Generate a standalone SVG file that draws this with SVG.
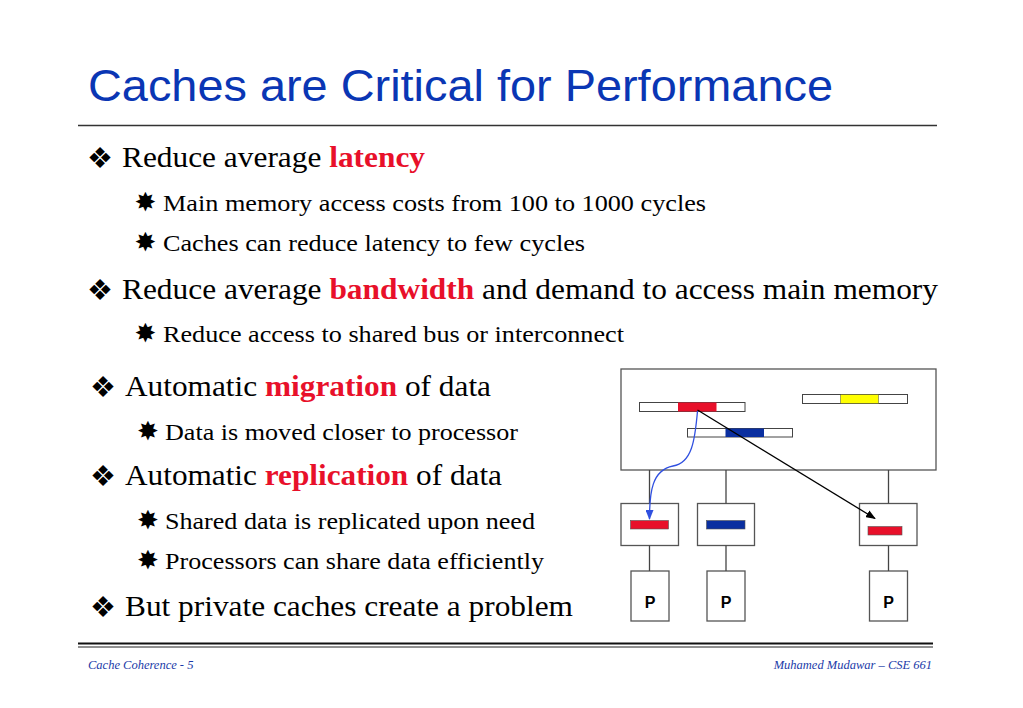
<svg xmlns="http://www.w3.org/2000/svg" width="1023" height="708" viewBox="0 0 1023 708">
<style>
.title{font-family:"Liberation Sans",Arial,sans-serif;font-size:44px;fill:#0a36b4}
.b1{font-family:"Liberation Serif","Times New Roman",serif;font-size:29px;fill:#000}
.b2{font-family:"Liberation Serif","Times New Roman",serif;font-size:23px;fill:#000}
.hl{font-weight:bold;fill:#e8102a}
.sym1{font-family:"DejaVu Sans",sans-serif;font-size:29px;fill:#000;text-anchor:middle}
.sym2{font-family:"DejaVu Sans",sans-serif;font-size:26px;fill:#000;text-anchor:middle}
.foot{font-family:"Liberation Serif","Times New Roman",serif;font-size:12.5px;font-style:italic;fill:#1a3aa8}
.box{fill:#fff;stroke:#555;stroke-width:1.3}
.bar{fill:#fff;stroke:#444;stroke-width:1}
.wire{stroke:#444;stroke-width:1.3;fill:none}
.plab{font-family:"Liberation Sans",Arial,sans-serif;font-size:16px;font-weight:bold;fill:#000;text-anchor:middle}
</style>
<defs>
<marker id="ahBlack" markerWidth="10" markerHeight="8" refX="9" refY="4" orient="auto" markerUnits="userSpaceOnUse">
<path d="M0,0 L10,4 L0,8 Z" fill="#000"/>
</marker>
<marker id="ahBlue" markerWidth="10" markerHeight="8" refX="9" refY="4" orient="auto" markerUnits="userSpaceOnUse">
<path d="M0,0 L10,4 L0,8 Z" fill="#3050e0"/>
</marker>
</defs>
<rect width="1023" height="708" fill="#fff"/>

<text class="title" x="88" y="101" textLength="745" lengthAdjust="spacingAndGlyphs">Caches are Critical for Performance</text>
<line x1="78" y1="125.5" x2="937" y2="125.5" stroke="#333" stroke-width="1.6"/>

<g id="text">
<text class="sym1" x="100" y="168">❖</text>
<text class="b1" x="122" y="167" textLength="303" lengthAdjust="spacingAndGlyphs">Reduce average <tspan class="hl">latency</tspan></text>
<text class="sym2" x="145.5" y="211">✸</text>
<text class="b2" x="163" y="211" textLength="543" lengthAdjust="spacingAndGlyphs">Main memory access costs from 100 to 1000 cycles</text>
<text class="sym2" x="145.5" y="251">✸</text>
<text class="b2" x="163" y="251" textLength="422" lengthAdjust="spacingAndGlyphs">Caches can reduce latency to few cycles</text>
<text class="sym1" x="100" y="300">❖</text>
<text class="b1" x="122" y="299" textLength="816" lengthAdjust="spacingAndGlyphs">Reduce average <tspan class="hl">bandwidth</tspan> and demand to access main memory</text>
<text class="sym2" x="145.5" y="342">✸</text>
<text class="b2" x="163" y="342" textLength="461" lengthAdjust="spacingAndGlyphs">Reduce access to shared bus or interconnect</text>
<text class="sym1" x="103" y="397">❖</text>
<text class="b1" x="125" y="396" textLength="366" lengthAdjust="spacingAndGlyphs">Automatic <tspan class="hl">migration</tspan> of data</text>
<text class="sym2" x="148" y="440">✸</text>
<text class="b2" x="165" y="440" textLength="353" lengthAdjust="spacingAndGlyphs">Data is moved closer to processor</text>
<text class="sym1" x="103" y="486">❖</text>
<text class="b1" x="125" y="485" textLength="377" lengthAdjust="spacingAndGlyphs">Automatic <tspan class="hl">replication</tspan> of data</text>
<text class="sym2" x="148" y="529">✸</text>
<text class="b2" x="165" y="529" textLength="370" lengthAdjust="spacingAndGlyphs">Shared data is replicated upon need</text>
<text class="sym2" x="148" y="569">✸</text>
<text class="b2" x="165" y="569" textLength="379" lengthAdjust="spacingAndGlyphs">Processors can share data efficiently</text>
<text class="sym1" x="103" y="617">❖</text>
<text class="b1" x="125" y="616" textLength="448" lengthAdjust="spacingAndGlyphs">But private caches create a problem</text>
</g>

<g id="memory">
<rect class="box" x="621" y="369" width="315" height="101"/>
<rect class="bar" x="639.5" y="402.5" width="105.5" height="9"/>
<rect x="678" y="402.5" width="38.5" height="9" fill="#e8102a"/>
<rect class="bar" x="802.5" y="394.5" width="105" height="9"/>
<rect x="840.5" y="394.5" width="38" height="9" fill="#ffff00" stroke="#444" stroke-width="0.5"/>
<rect class="bar" x="687.5" y="428.5" width="105" height="8.5"/>
<rect x="725.5" y="428.5" width="38.5" height="8.5" fill="#0a2fa0"/>
</g>

<g id="cache1">
<rect class="box" x="621" y="503.5" width="57.5" height="42"/>
<rect x="630.5" y="520.5" width="38" height="8.5" fill="#e8102a" stroke="#555" stroke-width="0.6"/>
</g>
<g id="cache2">
<rect class="box" x="697.5" y="503.5" width="57" height="42"/>
<rect x="706.5" y="520.5" width="38.5" height="8.5" fill="#0a2fa0" stroke="#555" stroke-width="0.6"/>
</g>
<g id="cache3">
<rect class="box" x="859.5" y="503.5" width="57.5" height="42"/>
<rect x="868" y="526.5" width="34" height="8.5" fill="#e8102a" stroke="#555" stroke-width="0.6"/>
</g>

<g id="p1">
<rect class="box" x="631" y="571" width="38" height="50"/>
<text class="plab" x="650" y="608">P</text>
</g>
<g id="p2">
<rect class="box" x="707" y="571" width="38" height="50"/>
<text class="plab" x="726" y="608">P</text>
</g>
<g id="p3">
<rect class="box" x="869.5" y="571" width="38" height="50"/>
<text class="plab" x="888.5" y="608">P</text>
</g>

<g id="connectors">
<line class="wire" x1="649.5" y1="470" x2="649.5" y2="503.5"/>
<line class="wire" x1="726" y1="470" x2="726" y2="503.5"/>
<line class="wire" x1="888.5" y1="470" x2="888.5" y2="503.5"/>
<line class="wire" x1="649.5" y1="545.5" x2="649.5" y2="571"/>
<line class="wire" x1="726" y1="545.5" x2="726" y2="571"/>
<line class="wire" x1="888.5" y1="545.5" x2="888.5" y2="571"/>
<line x1="697.5" y1="410" x2="875" y2="518.5" stroke="#000" stroke-width="1.3" marker-end="url(#ahBlack)"/>
<path d="M697.5,411 C695,440 692,463 673,466 C652,470 649.5,492 649.5,519" fill="none" stroke="#3050e0" stroke-width="1.3" marker-end="url(#ahBlue)"/>
</g>

<line x1="78" y1="643.5" x2="933" y2="643.5" stroke="#111" stroke-width="2"/>
<line x1="78" y1="647" x2="933" y2="647" stroke="#222" stroke-width="1"/>
<text class="foot" x="88" y="669">Cache Coherence - 5</text>
<text class="foot" x="932" y="669" text-anchor="end">Muhamed Mudawar – CSE 661</text>
</svg>
